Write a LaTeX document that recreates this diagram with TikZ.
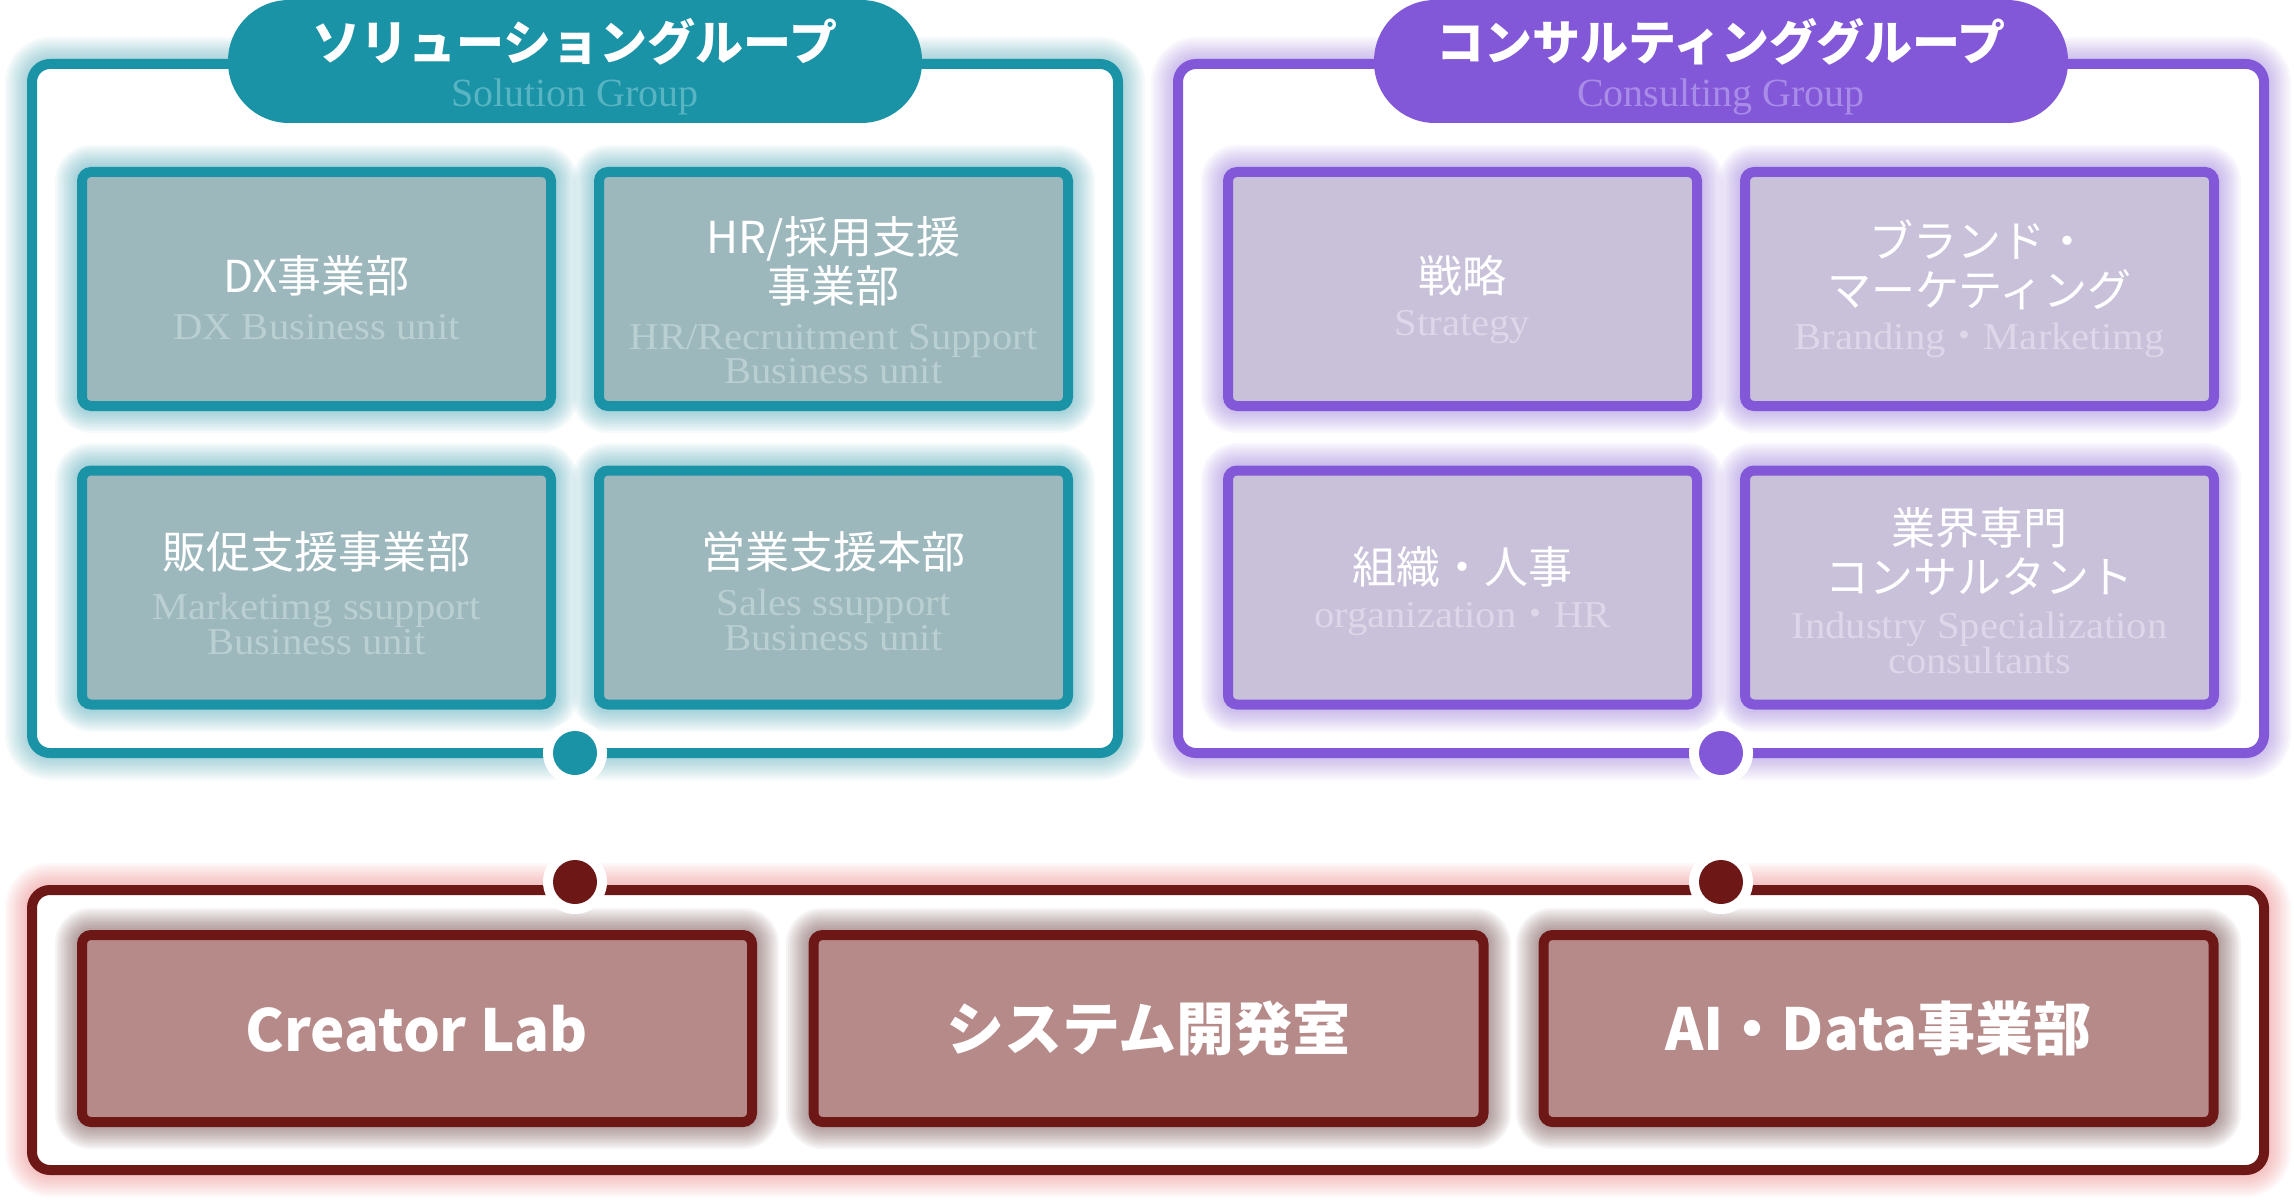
\documentclass[tikz,border=0pt]{standalone}
\usepackage{fontspec}
\newfontfamily\jp{Noto Sans CJK JP}
\newfontfamily\srf{Liberation Serif}
\newfontfamily\srfw[FakeStretch=1.07]{Liberation Serif}
\definecolor{cTeal}{HTML}{1A93A6}
\definecolor{cTealFill}{HTML}{9DB8BC}
\definecolor{cTealSub}{HTML}{B9CFD2}
\definecolor{cTealPillSub}{HTML}{58B4C2}
\definecolor{cPur}{HTML}{8258D8}
\definecolor{cPurFill}{HTML}{C9C1D9}
\definecolor{cPurSub}{HTML}{DDD7E9}
\definecolor{cPurPillSub}{HTML}{A98BE8}
\definecolor{cRed}{HTML}{6E1717}
\definecolor{cRedFill}{HTML}{B78A8A}
\definecolor{cRedGlow}{HTML}{F05A5A}
\definecolor{cRedShadow}{HTML}{5A2A2A}
\newcommand\glowrect[7]{%
  \foreach \k in {1,...,10}{%
    \pgfmathsetmacro\dd{2.2*\k}%
    \pgfmathsetmacro\rr{#5+\dd}%
    \fill[#6, opacity=#7, rounded corners=\rr pt] ({#1-\dd},{#2-\dd}) rectangle ({#3+\dd},{#4+\dd});
  }}
\tikzset{
  outerbox/.style={draw=#1, line width=10pt, fill=white, rounded corners=18pt, inner sep=0pt},
  pillbox/.style={fill=#1, rounded corners=61pt, minimum width=694pt, minimum height=123pt, inner sep=0pt},
  unitbox/.style 2 args={draw=#1, fill=#2, line width=10pt, rounded corners=9pt, inner sep=0pt, minimum width=469pt, minimum height=234pt},
  labbox/.style={draw=cRed, fill=cRedFill, line width=10pt, rounded corners=9pt, inner sep=0pt, minimum width=670pt, minimum height=187pt},
  jtitle/.style={font=\jp\fontsize{44}{49}\selectfont, text=white, align=center, inner sep=0pt},
  esub/.style={font=\srfw\fontsize{38}{32}\selectfont, text=#1, align=center, inner sep=0pt},
  ptitle/.style={font=\jp\bfseries\fontsize{48}{52}\selectfont, text=white, inner sep=0pt},
  psub/.style={font=\srf\fontsize{40}{44}\selectfont, text=#1, inner sep=0pt},
  btitle/.style={font=\jp\bfseries\fontsize{58}{60}\selectfont, text=white, inner sep=0pt},
  ring/.style={circle, fill=white, minimum size=64pt, inner sep=0pt},
  dot/.style={circle, fill=#1, minimum size=44pt, inner sep=0pt},
}
\begin{document}
\begin{tikzpicture}[x=1pt,y=-1pt]
\useasboundingbox[fill=white] (0,0) rectangle (2294,1201);
% outer glows
\glowrect{27}{59}{1123}{758}{23}{cTeal}{0.04}
\glowrect{1173}{59}{2269}{758}{23}{cPur}{0.04}
\glowrect{27}{885}{2269}{1175}{23}{cRedGlow}{0.04}
% outer boxes
\node[outerbox=cTeal, minimum width=1086pt, minimum height=689pt] (solbox) at (575,408.5) {};
\node[outerbox=cPur, minimum width=1086pt, minimum height=689pt] (conbox) at (1721,408.5) {};
\node[outerbox=cRed, minimum width=2232pt, minimum height=280pt] (labarea) at (1148,1030) {};
% pills
\node[pillbox=cTeal] (solpill) at (575,61.5) {};
\node[pillbox=cPur] (conpill) at (1721,61.5) {};
\node[ptitle] (soltitle) at (575,42) {ソリューショングループ};
\node[psub=cTealPillSub] (solsub) at (575,97) {Solution Group};
\node[ptitle] (contitle) at (1721,42) {コンサルティンググループ};
\node[psub=cPurPillSub] (consub) at (1721,97) {Consulting Group};
% inner glows
\glowrect{77}{167}{556}{411}{14}{cTeal}{0.045}
\glowrect{594}{167}{1073}{411}{14}{cTeal}{0.045}
\glowrect{77}{465}{556}{710}{14}{cTeal}{0.045}
\glowrect{594}{465}{1073}{710}{14}{cTeal}{0.045}
\glowrect{1223}{167}{1702}{411}{14}{cPur}{0.045}
\glowrect{1740}{167}{2219}{411}{14}{cPur}{0.045}
\glowrect{1223}{465}{1702}{710}{14}{cPur}{0.045}
\glowrect{1740}{465}{2219}{710}{14}{cPur}{0.045}
\glowrect{77}{930}{757}{1127}{14}{cRedShadow}{0.05}
\glowrect{808}{930}{1489}{1127}{14}{cRedShadow}{0.05}
\glowrect{1538}{930}{2219}{1127}{14}{cRedShadow}{0.05}
% solution units
\node[unitbox={cTeal}{cTealFill}] (dx) at (316.5,289) {};
\node[unitbox={cTeal}{cTealFill}] (hr) at (833.5,289) {};
\node[unitbox={cTeal}{cTealFill}] (sp) at (316.5,587.5) {};
\node[unitbox={cTeal}{cTealFill}] (ss) at (833.5,587.5) {};
\node[jtitle] (dxt) at (316.5,276) {DX事業部};
\node[esub=cTealSub] (dxs) at (316.5,327) {DX Business unit};
\node[jtitle] (hrt) at (833.5,261) {HR/採用支援\\事業部};
\node[esub=cTealSub] (hrs) at (833.5,354) {HR/Recruitment Support\\Business unit};
\node[jtitle] (spt) at (316.5,552) {販促支援事業部};
\node[esub=cTealSub] (sps) at (316.5,624) {Marketimg ssupport\\Business unit};
\node[jtitle] (sst) at (833.5,552) {営業支援本部};
\node[esub=cTealSub] (sss) at (833.5,620) {Sales ssupport\\Business unit};
% consulting units
\node[unitbox={cPur}{cPurFill}] (st) at (1462.5,289) {};
\node[unitbox={cPur}{cPurFill}] (br) at (1979.5,289) {};
\node[unitbox={cPur}{cPurFill}] (og) at (1462.5,587.5) {};
\node[unitbox={cPur}{cPurFill}] (ic) at (1979.5,587.5) {};
\node[jtitle] (stt) at (1462.5,276) {戦略};
\node[esub=cPurSub] (sts) at (1462.5,327) {Strategy};
\node[jtitle] (brt) at (1979.5,265) {ブランド・\\マーケティング};
\node[esub=cPurSub] (brs) at (1979.5,340) {Branding{\jp ・}Marketimg};
\node[jtitle] (ogt) at (1462.5,567) {組織・人事};
\node[esub=cPurSub] (ogs) at (1462.5,619) {organization{\jp ・}HR};
\node[jtitle] (ict) at (1979.5,552) {業界専門\\コンサルタント};
\node[esub=cPurSub] (ics) at (1979.5,643) {Industry Specialization\\consultants};
% lab units
\node[labbox] (cl) at (417,1028.5) {};
\node[labbox] (sd) at (1148.5,1028.5) {};
\node[labbox] (ai) at (1878.5,1028.5) {};
\node[btitle] (clt) at (417,1028.5) {Creator Lab};
\node[btitle] (sdt) at (1148.5,1028.5) {システム開発室};
\node[btitle] (ait) at (1878.5,1028.5) {AI・Data事業部};
% dots
\node[ring] (r1) at (575,753) {};
\node[dot=cTeal] (d1) at (575,753) {};
\node[ring] (r2) at (1721,753) {};
\node[dot=cPur] (d2) at (1721,753) {};
\node[ring] (r3) at (575,882) {};
\node[dot=cRed] (d3) at (575,882) {};
\node[ring] (r4) at (1721,882) {};
\node[dot=cRed] (d4) at (1721,882) {};
\end{tikzpicture}
\end{document}
